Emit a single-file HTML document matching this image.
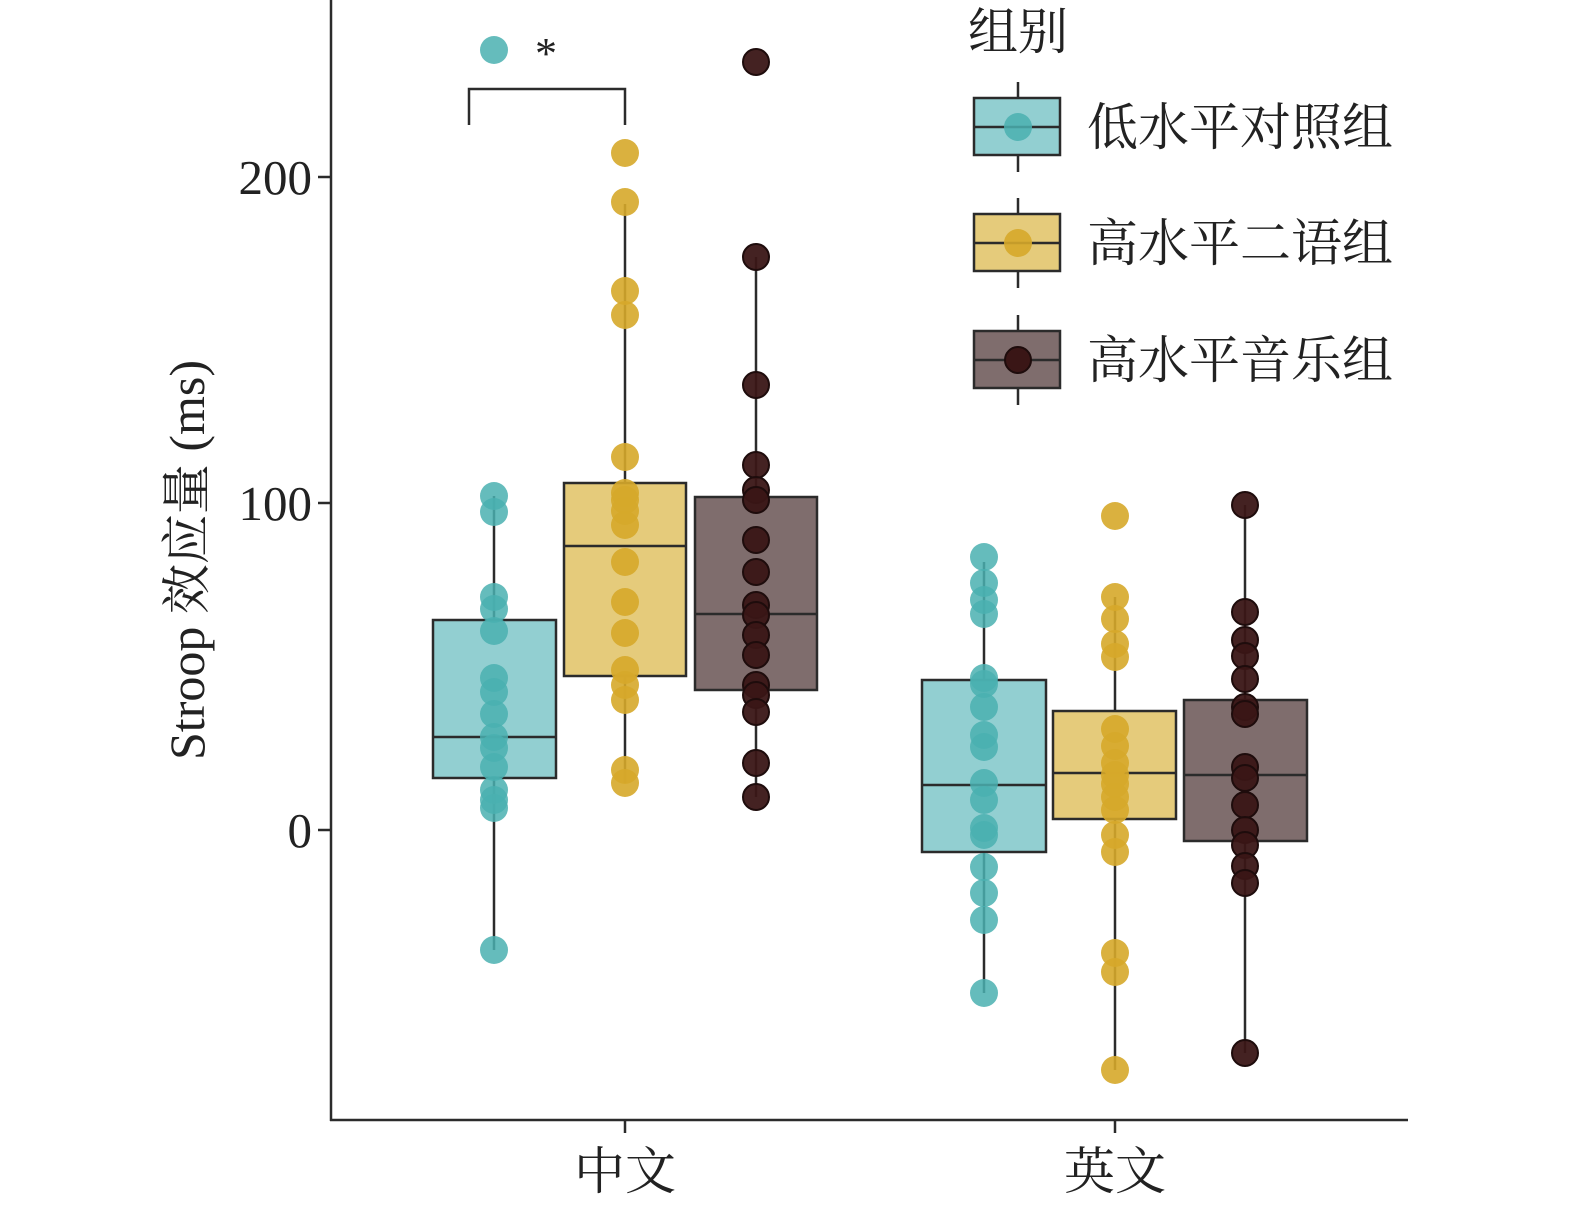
<!DOCTYPE html>
<html><head><meta charset="utf-8"><style>body{margin:0;background:#fff}</style></head><body>
<svg width="1575" height="1208" xmlns="http://www.w3.org/2000/svg" style="font-family:'Liberation Serif','Noto Serif CJK SC',serif">
<g stroke="#2b2b2b" stroke-width="2.5" fill="none">
<line x1="331" y1="0" x2="331" y2="1121"/><line x1="330" y1="1120" x2="1408" y2="1120"/>
<line x1="318" y1="177" x2="331" y2="177"/><line x1="318" y1="503" x2="331" y2="503"/><line x1="318" y1="830" x2="331" y2="830"/>
<line x1="625" y1="1120" x2="625" y2="1133"/><line x1="1115" y1="1120" x2="1115" y2="1133"/>
<polyline points="469,125 469,89 625,89 625,125"/>
</g>
<g font-size="49" text-anchor="end" fill="#222"><text x="312" y="194">200</text><text x="312" y="520">100</text><text x="312" y="847">0</text></g>
<text transform="translate(204,560) rotate(-90)" font-size="50" text-anchor="middle" fill="#222">Stroop 效应量 (ms)</text>
<g font-size="51" text-anchor="middle" fill="#222"><text x="625" y="1189">中文</text><text x="1115" y="1189">英文</text></g>
<g stroke="#2b2b2b" stroke-width="2.5">
<line x1="494" y1="496" x2="494" y2="950"/><rect x="433" y="620" width="123" height="158" fill="#92cfd1"/><line x1="433" y1="737" x2="556" y2="737"/>
<line x1="625" y1="204" x2="625" y2="783"/><rect x="564" y="483" width="122" height="193" fill="#e5cb7b"/><line x1="564" y1="546" x2="686" y2="546"/>
<line x1="756" y1="257" x2="756" y2="797"/><rect x="695" y="497" width="122" height="193" fill="#7f6d6d"/><line x1="695" y1="614" x2="817" y2="614"/>
<line x1="984" y1="562" x2="984" y2="993"/><rect x="922" y="680" width="124" height="172" fill="#92cfd1"/><line x1="922" y1="785" x2="1046" y2="785"/>
<line x1="1115" y1="597" x2="1115" y2="1070"/><rect x="1053" y="711" width="123" height="108" fill="#e5cb7b"/><line x1="1053" y1="773" x2="1176" y2="773"/>
<line x1="1245" y1="505" x2="1245" y2="1053"/><rect x="1184" y="700" width="123" height="141" fill="#7f6d6d"/><line x1="1184" y1="775" x2="1307" y2="775"/>
</g>
<g fill="#4ab0b0" fill-opacity="0.85">
<circle cx="494" cy="50" r="14"/>
<g transform="translate(494,0)"><circle cy="496" r="14"/><circle cy="512" r="14"/><circle cy="597" r="14"/><circle cy="609" r="14"/><circle cy="631" r="14"/><circle cy="678" r="14"/><circle cy="692" r="14"/><circle cy="714" r="14"/><circle cy="737" r="14"/><circle cy="748" r="14"/><circle cy="767" r="14"/><circle cy="790" r="14"/><circle cy="800" r="14"/><circle cy="808" r="14"/><circle cy="950" r="14"/></g>
<g transform="translate(984,0)"><circle cy="557" r="14"/><circle cy="583" r="14"/><circle cy="600" r="14"/><circle cy="614" r="14"/><circle cy="678" r="14"/><circle cy="684" r="14"/><circle cy="707" r="14"/><circle cy="735" r="14"/><circle cy="747" r="14"/><circle cy="783" r="14"/><circle cy="800" r="14"/><circle cy="828" r="14"/><circle cy="835" r="14"/><circle cy="867" r="14"/><circle cy="893" r="14"/><circle cy="920" r="14"/><circle cy="993" r="14"/></g>
</g>
<g fill="#d6a92a" fill-opacity="0.9">
<g transform="translate(625,0)"><circle cy="153" r="14"/><circle cy="202" r="14"/><circle cy="291" r="14"/><circle cy="315" r="14"/><circle cy="457" r="14"/><circle cy="493" r="14"/><circle cy="500" r="14"/><circle cy="511" r="14"/><circle cy="525" r="14"/><circle cy="562" r="14"/><circle cy="602" r="14"/><circle cy="633" r="14"/><circle cy="670" r="14"/><circle cy="685" r="14"/><circle cy="700" r="14"/><circle cy="770" r="14"/><circle cy="783" r="14"/></g>
<g transform="translate(1115,0)"><circle cy="516" r="14"/><circle cy="597" r="14"/><circle cy="619" r="14"/><circle cy="644" r="14"/><circle cy="657" r="14"/><circle cy="729" r="14"/><circle cy="746" r="14"/><circle cy="763" r="14"/><circle cy="775" r="14"/><circle cy="784" r="14"/><circle cy="797" r="14"/><circle cy="810" r="14"/><circle cy="835" r="14"/><circle cy="852" r="14"/><circle cy="953" r="14"/><circle cy="972" r="14"/><circle cy="1070" r="14"/></g>
</g>
<g fill="#3a1616" fill-opacity="0.95" stroke="#1e0c0c" stroke-width="2">
<g transform="translate(756,0)"><circle cy="62" r="13"/><circle cy="257" r="13"/><circle cy="385" r="13"/><circle cy="465" r="13"/><circle cy="490" r="13"/><circle cy="500" r="13"/><circle cy="540" r="13"/><circle cy="572" r="13"/><circle cy="605" r="13"/><circle cy="615" r="13"/><circle cy="635" r="13"/><circle cy="655" r="13"/><circle cy="685" r="13"/><circle cy="695" r="13"/><circle cy="712" r="13"/><circle cy="763" r="13"/><circle cy="797" r="13"/></g>
<g transform="translate(1245,0)"><circle cy="505" r="13"/><circle cy="612" r="13"/><circle cy="640" r="13"/><circle cy="656" r="13"/><circle cy="679" r="13"/><circle cy="707" r="13"/><circle cy="714" r="13"/><circle cy="767" r="13"/><circle cy="778" r="13"/><circle cy="805" r="13"/><circle cy="830" r="13"/><circle cy="845" r="13"/><circle cy="866" r="13"/><circle cy="883" r="13"/><circle cy="1053" r="13"/></g>
</g>
<text x="546" y="68" font-size="44" text-anchor="middle" fill="#222">*</text>
<text x="968" y="49" font-size="50" fill="#222">组别</text>
<g stroke="#2b2b2b" stroke-width="2.5">
<line x1="1018" y1="82" x2="1018" y2="172"/><rect x="974" y="98" width="86" height="57" fill="#92cfd1"/><line x1="974" y1="127" x2="1060" y2="127"/>
<line x1="1018" y1="198" x2="1018" y2="288"/><rect x="974" y="214" width="86" height="57" fill="#e5cb7b"/><line x1="974" y1="243" x2="1060" y2="243"/>
<line x1="1018" y1="315" x2="1018" y2="405"/><rect x="974" y="331" width="86" height="57" fill="#7f6d6d"/><line x1="974" y1="360" x2="1060" y2="360"/>
</g>
<circle cx="1018" cy="127" r="14" fill="#4ab0b0" fill-opacity="0.85"/>
<circle cx="1018" cy="243" r="14" fill="#d6a92a" fill-opacity="0.9"/>
<circle cx="1018" cy="360" r="13" fill="#3a1616" stroke="#1e0c0c" stroke-width="2"/>
<g font-size="51" fill="#222"><text x="1087" y="145">低水平对照组</text><text x="1087" y="261">高水平二语组</text><text x="1087" y="378">高水平音乐组</text></g>
</svg>
</body></html>
